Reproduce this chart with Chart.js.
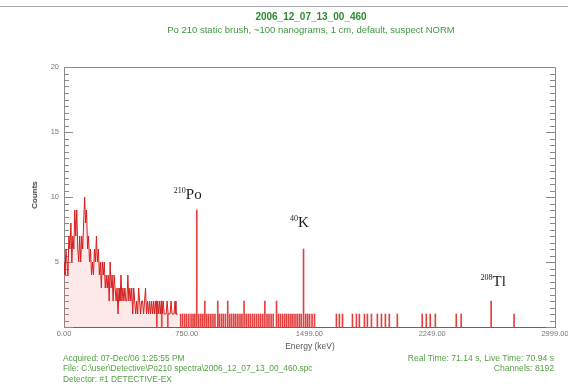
<!DOCTYPE html>
<html>
<head>
<meta charset="utf-8">
<script src="https://cdn.jsdelivr.net/npm/chart.js@4"></script>
<style>
  html,body{margin:0;padding:0;background:#fff;}
  #wrap{position:relative;width:568px;height:385px;overflow:hidden;font-family:"Liberation Sans",Arial,sans-serif;}
  canvas{position:absolute;left:0;top:0;}
  .t{position:absolute;white-space:nowrap;line-height:1;}
</style>
</head>
<body>
<div id="wrap">
  <canvas id="c" width="568" height="385"></canvas>
  <div class="t" style="left:0;top:6px;width:568px;height:1px;background:#a8a8a8;"></div>
  <div class="t" id="title" style="left:0;width:622px;text-align:center;top:12px;font-size:10px;font-weight:bold;color:#2e8b2e;"></div>
  <div class="t" id="subtitle" style="left:0;width:622px;text-align:center;top:25px;font-size:9.5px;color:#3f963f;"></div>
  <div class="t" id="ytitle" style="left:35px;top:195px;transform:translate(-50%,-50%) rotate(-90deg);font-size:8px;font-weight:bold;color:#444;"></div>
  <div class="t" id="xtitle" style="left:310px;top:346px;transform:translate(-50%,-50%);font-size:8.5px;color:#555;"></div>
  <div class="t" id="f1" style="left:63px;top:354px;font-size:8.4px;color:#55a045;"></div>
  <div class="t" id="f2" style="left:63px;top:364px;font-size:8.4px;color:#55a045;"></div>
  <div class="t" id="f3" style="left:63px;top:375px;font-size:8.4px;color:#55a045;"></div>
  <div class="t" id="f4" style="right:14px;top:354px;font-size:8.6px;color:#55a045;text-align:right;"></div>
  <div class="t" id="f5" style="right:14px;top:364px;font-size:8.6px;color:#55a045;text-align:right;"></div>
</div>
<script>
// ---------- texts ----------
const chartTitle = "2006_12_07_13_00_460";
const chartSubtitle = "Po 210 static brush, ~100 nanograms, 1 cm, default, suspect NORM";
const yAxisTitle = "Counts";
const xAxisTitle = "Energy (keV)";
const footerLeft = ["Acquired:  07-Dec/06 1:25:55 PM",
                    "File:  C:\\user\\Detective\\Po210 spectra\\2006_12_07_13_00_460.spc",
                    "Detector:  #1 DETECTIVE-EX"];
const footerRight = ["Real Time:  71.14 s,  Live Time:  70.94 s", "Channels:  8192"];

// ---------- axis ticks ----------
const xTickValues = [0, 750, 1499, 2249, 2999];
const xTickLabels = ["0.00", "750.00", "1499.00", "2249.00", "2999.00"];
const yTickValues = [5, 10, 15, 20];

// ---------- low-energy continuum (keV, counts) ----------
const lowEnergy = [0,6,12,18,24,30,36,42,48,54,60,66,72,78,84,90,96,102,108,114,
  120,126,132,138,144,150,156,162,168,174,180,186,192,198,204,210,216,222,228,234,
  240,246,252,258,264,270,276,282,288,294,300,306,312,318,324,330,336,342,348,354,
  360,366,372,378,384,390,396,402,408,414,420,426,432,438,444,450,456,462,468,474,
  480,486,492,498,504,510,516,522,528,534,540,546,552,558,564,570,576,582,588,594,
  600,606,612,618,624,630,636,642,648,654,660,666,672,678,684,690,696];
const lowCounts = [5,4,6,5,4,7,6,8,5,7,6,9,7,9,6,5,7,5,7,6,
  8,10,8,9,6,7,5,6,4,5,4,6,5,7,5,6,4,5,3,5,
  4,5,3,4,3,4,2,5,3,4,2,4,3,2,3,1,3,2,4,2,
  3,2,3,2,2,4,2,3,2,3,1,3,2,1,2,1,3,2,1,2,
  2,1,2,3,1,2,1,2,1,2,1,2,1,2,1,2,1,2,1,2,
  1,2,1,1,1,2,1,1,1,2,1,1,1,2,1,1,1];

// ---------- isolated channel peaks (keV, counts) ----------
const peakEnergy = [567, 597, 634, 811, 860, 939, 1000, 1298, 1463, 2609];
const peakCounts = [2, 2, 1, 9, 2, 2, 2, 2, 6, 2];

// ---------- single-count channels (keV, counts) ----------
const minorEnergy = [712,724,737,749,762,776,788,799,823,836,848,872,884,897,910,922,948,961,973,986,
  1012,1024,1037,1049,1062,1075,1087,1100,1113,1126,1138,1151,1163,1176,1189,1201,1214,1227,1240,1252,
  1265,1278,1310,1322,1335,1348,1360,1373,1386,1398,1411,1424,1437,1449,1476,1488,1500,1515,1530,
  1664,1682,1701,1762,1786,1804,1835,1853,1878,1914,1939,1963,1987,2036,2188,2213,2237,2268,2396,2426,2749];
const minorCounts = [1,1,1,1,1,1,1,1,1,1,1,1,1,1,1,1,1,1,1,1,
  1,1,1,1,1,1,1,2,1,1,1,1,1,1,1,1,1,2,1,1,
  1,1,1,1,1,1,1,1,1,1,1,1,1,1,1,1,1,1,1,
  1,1,1,1,1,1,1,1,1,1,1,1,1,1,1,1,1,1,1,1,1];

// ---------- peak annotations ----------
const isotopeMass = ["210", "40", "208"];
const isotopeSymbol = ["Po", "K", "Tl"];
const isotopePeakIndex = [3, 8, 9];

// ---------- fill HTML text ----------
document.getElementById('title').textContent = chartTitle;
document.getElementById('subtitle').textContent = chartSubtitle;
document.getElementById('ytitle').textContent = yAxisTitle;
document.getElementById('xtitle').textContent = xAxisTitle;
document.getElementById('f1').textContent = footerLeft[0];
document.getElementById('f2').textContent = footerLeft[1];
document.getElementById('f3').textContent = footerLeft[2];
document.getElementById('f4').textContent = footerRight[0];
document.getElementById('f5').textContent = footerRight[1];

const lowPoints = lowEnergy.map((e, i) => ({x: e, y: lowCounts[i]}));
const spikePoints = peakEnergy.map((e, i) => ({x: e, y: peakCounts[i]}))
  .concat(minorEnergy.map((e, i) => ({x: e, y: minorCounts[i]})));

const labelOffsets = [[-9, -16], [-4, -27], [2, -20]];

const framePlugin = {
  id: 'frame',
  beforeDatasetsDraw(chart) {
    const {ctx, chartArea: a, scales: {x, y}} = chart;
    ctx.save();
    ctx.strokeStyle = '#8a8a8a';
    ctx.lineWidth = 1;
    ctx.beginPath();
    ctx.moveTo(a.left, a.top + 0.5); ctx.lineTo(a.right + 0.5, a.top + 0.5);
    ctx.lineTo(a.right + 0.5, a.bottom);
    ctx.stroke();
    ctx.beginPath();
    for (let v = 0; v <= 20.001; v += 0.5) {
      const py = Math.round(y.getPixelForValue(v)) + 0.5;
      const major = Math.abs(v % 5) < 1e-6;
      const len = major ? 9 : 5;
      ctx.moveTo(a.left, py); ctx.lineTo(a.left + len, py);
      ctx.moveTo(a.right, py); ctx.lineTo(a.right - len, py);
    }
    ctx.stroke();
    ctx.fillStyle = '#777';
    ctx.font = '7.5px "Liberation Sans", Arial, sans-serif';
    ctx.textAlign = 'center';
    ctx.textBaseline = 'middle';
    xTickValues.forEach((v, i) => {
      ctx.fillText(xTickLabels[i], x.getPixelForValue(v), a.bottom + 7);
    });
    ctx.restore();
  },
  afterDatasetsDraw(chart) {
    const {ctx, scales: {x, y}} = chart;
    ctx.save();
    ctx.fillStyle = '#1a1a1a';
    ctx.textBaseline = 'alphabetic';
    isotopeMass.forEach((m, i) => {
      const k = isotopePeakIndex[i];
      const px = x.getPixelForValue(peakEnergy[k]);
      const py = y.getPixelForValue(peakCounts[k]);
      const cx = px + labelOffsets[i][0];
      const cy = py + labelOffsets[i][1];
      ctx.font = '8px "Liberation Serif", "Times New Roman", serif';
      const wm = ctx.measureText(m).width;
      ctx.font = '15px "Liberation Serif", "Times New Roman", serif';
      const ws = ctx.measureText(isotopeSymbol[i]).width;
      const x0 = cx - (wm + ws) / 2;
      ctx.font = '8px "Liberation Serif", "Times New Roman", serif';
      ctx.fillText(m, x0, cy - 1);
      ctx.font = '15px "Liberation Serif", "Times New Roman", serif';
      ctx.fillText(isotopeSymbol[i], x0 + wm, cy + 5);
    });
    ctx.restore();
  }
};

new Chart(document.getElementById('c'), {
  type: 'line',
  data: {
    datasets: [
      {
        type: 'line',
        data: lowPoints,
        borderColor: '#d61e1e',
        borderWidth: 1,
        pointRadius: 0,
        tension: 0,
        fill: 'origin',
        backgroundColor: 'rgba(235,70,70,0.12)'
      },
      {
        type: 'bar',
        data: spikePoints,
        backgroundColor: '#e44040',
        barThickness: 1,
        borderWidth: 0
      }
    ]
  },
  options: {
    responsive: false,
    animation: false,
    layout: {padding: {left: 0, right: 13, top: 67, bottom: 0}},
    plugins: {legend: {display: false}, tooltip: {enabled: false}, title: {display: false}},
    scales: {
      x: {
        type: 'linear', min: 0, max: 2999, offset: false,
        ticks: {display: false},
        grid: {display: false, drawTicks: false},
        border: {display: true, color: '#e03030', width: 1},
        afterFit(s) { s.height = 58; }
      },
      y: {
        type: 'linear', min: 0, max: 20,
        afterBuildTicks(s) { s.ticks = yTickValues.map(v => ({value: v})); },
        ticks: {color: '#777', font: {size: 7.5, family: '"Liberation Sans", Arial, sans-serif'}, padding: 5},
        grid: {display: false, drawTicks: false},
        border: {display: true, color: '#8a8a8a', width: 1},
        afterFit(s) { s.width = 64; }
      }
    }
  },
  plugins: [framePlugin]
});
</script>
</body>
</html>
